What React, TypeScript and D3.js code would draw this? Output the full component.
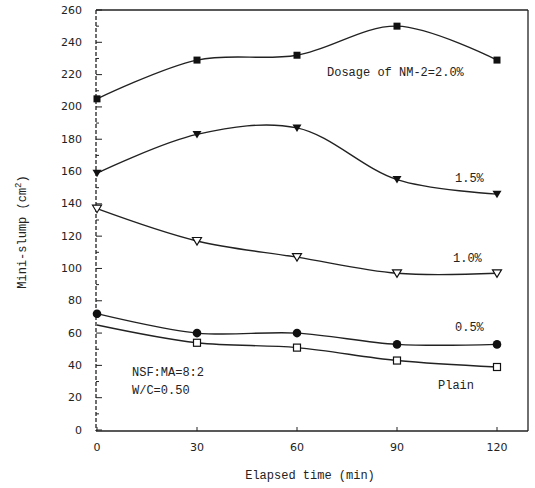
import * as d3 from "d3";

// Elapsed time (min)
const times = [0, 30, 60, 90, 120];

// Mini-slump (cm²) by dosage of NM-2
const dose20 = [205, 229, 232, 250, 229];
const dose15 = [159, 183, 187, 155, 146];
const dose10 = [137, 117, 107, 97, 97];
const dose05 = [72, 60, 60, 53, 53];
const plain = [65, 54, 51, 43, 39];

const xTicks = [0, 30, 60, 90, 120];
const yTicks = d3.range(0, 261, 20);
const yMinor = d3.range(10, 260, 20);

type Marker = "filledSquare" | "filledTri" | "openTri" | "filledCircle" | "openSquare";

const seriesList: { key: string; values: number[]; marker: Marker; skipFirst?: boolean }[] = [
  { key: "2.0", values: dose20, marker: "filledSquare" },
  { key: "1.5", values: dose15, marker: "filledTri" },
  { key: "1.0", values: dose10, marker: "openTri" },
  { key: "0.5", values: dose05, marker: "filledCircle" },
  { key: "plain", values: plain, marker: "openSquare", skipFirst: true },
];

const W = 535;
const H = 488;
const frame = { left: 96, right: 528, top: 10, bottom: 431 };

const MarkerShape = ({ type, x, y }: { type: Marker; x: number; y: number }) => {
  const ink = "#111";
  if (type === "filledSquare")
    return <rect x={x - 3.5} y={y - 3.5} width={7} height={7} fill={ink} />;
  if (type === "openSquare")
    return <rect x={x - 3.5} y={y - 3.5} width={7} height={7} fill="white" stroke={ink} strokeWidth={1.2} />;
  if (type === "filledCircle") return <circle cx={x} cy={y} r={4.3} fill={ink} />;
  const tri = `M${x - 4.5},${y - 3.5}L${x + 4.5},${y - 3.5}L${x},${y + 4}Z`;
  if (type === "filledTri") return <path d={tri} fill={ink} />;
  return <path d={tri} fill="white" stroke={ink} strokeWidth={1.2} />;
};

export default function App() {
  const x = d3.scaleLinear().domain([0, 120]).range([97, 497]);
  const y = d3.scaleLinear().domain([0, 260]).range([430, 10]);

  const line = d3
    .line<[number, number]>()
    .x((d) => x(d[0]))
    .y((d) => y(d[1]))
    .curve(d3.curveCatmullRom.alpha(0.5));

  const mono = "'Liberation Mono', 'DejaVu Sans Mono', monospace";
  const sans = "'DejaVu Sans', sans-serif";

  return (
    <svg
      width={W}
      height={H}
      style={{ position: "absolute", left: 0, top: 0, background: "white" }}
    >
      {/* frame */}
      <g stroke="#222" strokeWidth={1.3} fill="none">
        <line x1={frame.left} x2={frame.right} y1={frame.top} y2={frame.top} />
        <line x1={frame.right} x2={frame.right} y1={frame.top} y2={frame.bottom} />
        <line x1={frame.left} x2={frame.right} y1={frame.bottom} y2={frame.bottom} />
        <line x1={frame.left} x2={frame.left} y1={frame.top} y2={frame.bottom} strokeDasharray="4 2" />
      </g>

      {/* y ticks */}
      {yTicks.map((t) => (
        <g key={`y${t}`}>
          <line x1={frame.left} x2={frame.left + 6} y1={y(t)} y2={y(t)} stroke="#222" strokeWidth={1} />
          <text
            x={82}
            y={y(t)}
            textAnchor="end"
            dominantBaseline="central"
            fontSize={11}
            fontFamily={sans}
            fill="#222"
          >
            {t}
          </text>
        </g>
      ))}
      {yMinor.map((t) => (
        <line key={`ym${t}`} x1={frame.left} x2={frame.left + 3} y1={y(t)} y2={y(t)} stroke="#222" strokeWidth={1} />
      ))}

      {/* x ticks */}
      {xTicks.map((t) => (
        <g key={`x${t}`}>
          <line x1={x(t)} x2={x(t)} y1={frame.bottom} y2={frame.bottom - 4} stroke="#222" strokeWidth={1} />
          <text x={x(t)} y={451} textAnchor="middle" fontSize={11} fontFamily={sans} fill="#222">
            {t}
          </text>
        </g>
      ))}

      {/* axis titles */}
      <text x={310} y={479} textAnchor="middle" fontSize={12} fontFamily={mono} fill="#222">
        Elapsed time (min)
      </text>
      <text
        transform="translate(26,232) rotate(-90)"
        textAnchor="middle"
        fontSize={12}
        fontFamily={mono}
        fill="#222"
      >
        Mini-slump (cm<tspan dy={-5} fontSize={9}>2</tspan>
        <tspan dy={5}>)</tspan>
      </text>

      {/* series */}
      {seriesList.map((s) => {
        const pts = times.map((t, i) => [t, s.values[i]] as [number, number]);
        return (
          <g key={s.key}>
            <path d={line(pts) ?? ""} fill="none" stroke="#222" strokeWidth={1.4} />
            {pts.map((p, i) =>
              s.skipFirst && i === 0 ? null : (
                <MarkerShape key={i} type={s.marker} x={x(p[0])} y={y(p[1])} />
              )
            )}
          </g>
        );
      })}

      {/* annotations */}
      <g fontFamily={mono} fontSize={12} fill="#222">
        <text x={327} y={76}>Dosage of NM-2=2.0%</text>
        <text x={455} y={182}>1.5%</text>
        <text x={453} y={262}>1.0%</text>
        <text x={455} y={331}>0.5%</text>
        <text x={438} y={389}>Plain</text>
        <text x={132} y={376}>NSF:MA=8:2</text>
        <text x={132} y={394}>W/C=0.50</text>
      </g>
    </svg>
  );
}
